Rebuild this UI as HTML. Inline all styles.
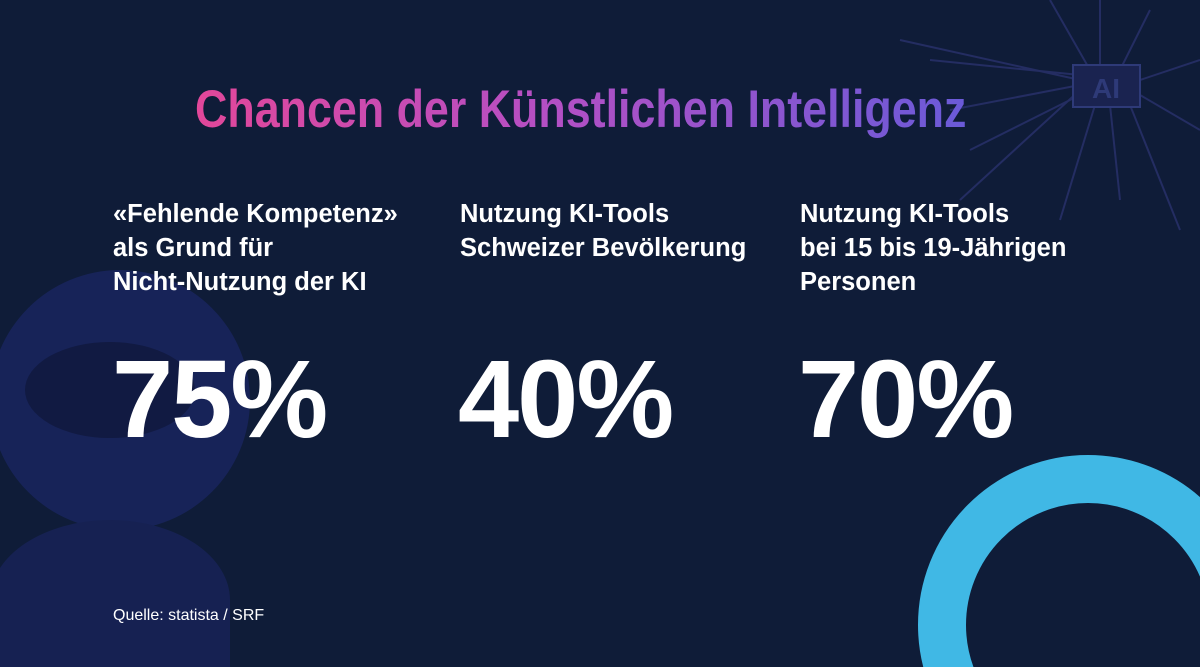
<!DOCTYPE html>
<html><head><meta charset="utf-8"><style>
html,body{margin:0;padding:0;overflow:hidden;width:1200px;height:667px}
body{background:#0f1c38;position:relative;font-family:"Liberation Sans",sans-serif;color:#fff}
.t{position:absolute;white-space:nowrap}
.h{font-size:25.5px;font-weight:bold;line-height:34px;top:197px}
.n{font-size:110px;font-weight:bold;top:345px;line-height:110px;letter-spacing:-2px}
.title{left:195px;top:80px;font-size:53px;font-weight:bold;transform:scaleX(0.845);transform-origin:left top;background:linear-gradient(90deg,#e2479a,#b54fc4 45%,#6a5ad8);-webkit-background-clip:text;background-clip:text;color:transparent;line-height:60px}
</style></head><body>
<svg width="1200" height="667" style="position:absolute;left:0;top:0;display:block">
<g opacity="0.7">
<circle cx="120" cy="400" r="130" fill="#1b2766"/>
<ellipse cx="110" cy="600" rx="120" ry="80" fill="#19245e"/>
<rect x="0" y="600" width="230" height="67" fill="#19245e"/>
</g>
<ellipse cx="110" cy="390" rx="85" ry="48" fill="#111a42"/>
<g stroke="#242d62" stroke-width="2" fill="none">
<path d="M1080 75 L930 60 M1080 85 L950 110 M1080 95 L970 150 M1100 70 L1100 0 M1120 70 L1150 10 M1140 80 L1200 60 M1140 95 L1200 130 M1110 105 L1120 200 M1095 105 L1060 220 M1130 105 L1180 230 M1080 80 L900 40 M1090 70 L1050 0 M1080 90 L960 200"/>
</g>
<rect x="1073" y="65" width="67" height="42" fill="#1a2350" stroke="#2e3a78" stroke-width="2"/>
<text x="1106" y="98" fill="#2e3a78" font-size="28" font-weight="bold" text-anchor="middle" font-family="Liberation Sans">AI</text>
<circle cx="1088" cy="625" r="146" fill="none" stroke="#40b8e5" stroke-width="48"/>
</svg>
<div class="t title">Chancen der Künstlichen Intelligenz</div>
<div class="t h" style="left:113px">«Fehlende Kompetenz»<br>als Grund für<br>Nicht-Nutzung der KI</div>
<div class="t h" style="left:460px">Nutzung KI-Tools<br>Schweizer Bevölkerung</div>
<div class="t h" style="left:800px">Nutzung KI-Tools<br>bei 15 bis 19-Jährigen<br>Personen</div>
<div class="t n" style="left:112px">75%</div>
<div class="t n" style="left:458px">40%</div>
<div class="t n" style="left:798px">70%</div>
<div class="t" style="left:113px;top:606px;font-size:16px;line-height:20px">Quelle: statista / SRF</div>
</body></html>
